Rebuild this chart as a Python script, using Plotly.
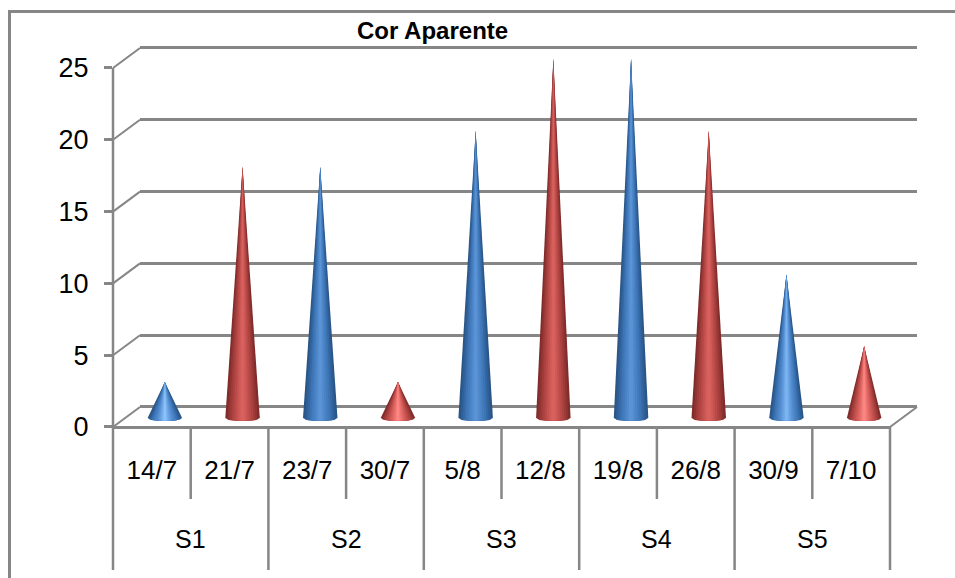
import math
import plotly.graph_objects as go

W, H = 955, 578

title_text = "Cor Aparente"
dates = ["14/7", "21/7", "23/7", "30/7", "5/8", "12/8", "19/8", "26/8", "30/9", "7/10"]
values = [2.5, 17.5, 17.5, 2.5, 20, 25, 25, 20, 10, 5]
series_color = ["blue", "red", "blue", "red", "blue", "red", "blue", "red", "blue", "red"]
groups = ["S1", "S2", "S3", "S4", "S5"]
y_ticks = [0, 5, 10, 15, 20, 25]

GRAY = "#868686"
# gradient, edge -> centre
RAMP = {
    "blue": ["#2a5687", "#2f5f96", "#3668a6", "#3c74b4", "#437cbd", "#4a84c6", "#528bcd", "#5b94d6",
             "#659edf", "#70a9e8", "#7bb4f0", "#8cc2f8"],
    "red": ["#7f2c2a", "#8f3432", "#9f3c3a", "#ad4341", "#b94a48", "#c4524f", "#cf5a57", "#d8615e",
            "#e16966", "#ea726f", "#f47c79", "#ff8583"],
}
GLOW = {"blue": "#c6d8ee", "red": "#f0cfce"}

# plot geometry in pixels
LEFT, RIGHT, BOTTOM, TOP = 113, 890, 427, 68
PAD = 0.2  # small range pad so the end gridlines are drawn


def dom(dx, dy):
    u = (BOTTOM - TOP) / (y_ticks[-1] - y_ticks[0])
    return (
        [(LEFT + dx) / W, (RIGHT + dx) / W],
        [(H - (BOTTOM + dy + PAD * u)) / H, (H - (TOP + dy - PAD * u)) / H],
    )


def px(x, y):
    return x / W, (H - y) / H


fig = go.Figure()

xr = [-0.5, 9.5]
yr = [y_ticks[0] - PAD, y_ticks[-1] + PAD]
fx1, fy1 = dom(0, 0)
fx2, fy2 = dom(27, -20)   # back wall
fx3, fy3 = dom(13, -9)    # cone plane

# front axis subplot
fig.add_trace(go.Scatter(x=[0], y=[0], xaxis="x", yaxis="y", mode="none", showlegend=False, hoverinfo="skip"))
# back wall gridlines subplot
fig.add_trace(go.Scatter(x=[0], y=[0], xaxis="x2", yaxis="y2", mode="none", showlegend=False, hoverinfo="skip"))


def cone(i, v, frac, depth, col):
    ts = [frac * (-1 + 2 * s / 12) for s in range(13)]
    xs = [i + t * half_w for t in ts] + [i]
    ys = [-depth * math.sqrt(max(0, 1 - t * t)) for t in ts] + [v]
    xs.append(xs[0])
    ys.append(ys[0])
    fig.add_trace(go.Scatter(x=xs, y=ys, xaxis="x3", yaxis="y3", mode="lines", fill="toself",
                             fillcolor=col, line=dict(color=col, width=0),
                             showlegend=False, hoverinfo="skip"))


# cones as nested gradient layers, widest and darkest first
half_w = 0.222
ell = 0.2
for i, (v, c) in enumerate(zip(values, series_color)):
    ramp = RAMP[c]
    layers = 8 if v >= 15 else 11 if v >= 10 else 12
    cone(i, v * 0.1, 0.8, ell + 0.14, GLOW[c])
    for k in range(layers):
        cone(i, v, 1 - k / layers, ell, ramp[k])

shapes = []


def line(x0, y0, x1, y1, w=2.5):
    a, b = px(x0, y0)
    c, d = px(x1, y1)
    shapes.append(dict(type="line", xref="paper", yref="paper", x0=a, y0=b, x1=c, y1=d,
                       line=dict(color=GRAY, width=w), layer="below"))


# slanted wall/floor connectors
step = (BOTTOM - TOP) / (len(y_ticks) - 1)
for k in range(len(y_ticks)):
    y = BOTTOM - k * step
    line(LEFT, y, LEFT + 27, y - 20, 2)
line(RIGHT, BOTTOM, RIGHT + 27, BOTTOM - 20, 2)
# vertical axis continuing below the plot
line(LEFT, TOP, LEFT, 570, 2.5)
line(RIGHT, BOTTOM, RIGHT, 570, 2.5)

# outer frame
a, b = px(9.5, 11.5)
c, d = px(1000, 1000)
shapes.append(dict(type="rect", xref="paper", yref="paper", x0=a, y0=b, x1=c, y1=d,
                   line=dict(color=GRAY, width=3), layer="below"))

# dividers between dates and groups
y_short = px(0, 499)[1]
y_long = px(0, 570)[1]
y_axis = px(0, BOTTOM)[1]
for i in range(1, len(dates)):
    shapes.append(dict(type="line", xref="x", yref="paper", x0=i - 0.5, x1=i - 0.5, y0=y_axis,
                       y1=y_short if i % 2 else y_long, line=dict(color=GRAY, width=2.5)))

annotations = [
    dict(text=f"<b>{title_text}</b>", xref="paper", yref="paper", x=px(432, 0)[0], y=px(0, 30)[1],
         xanchor="center", yanchor="middle", showarrow=False,
         font=dict(family="Liberation Sans", size=24, color="black"))
]
for j, g in enumerate(groups):
    annotations.append(dict(text=g, xref="x", yref="paper", x=2 * j + 0.5, y=px(0, 539)[1],
                            xanchor="center", yanchor="middle", showarrow=False,
                            font=dict(family="Liberation Sans", size=25, color="black")))

common = dict(showline=False, zeroline=False)
fig.update_layout(
    width=W, height=H, margin=dict(l=0, r=0, t=0, b=0, autoexpand=False), autosize=False,
    paper_bgcolor="white", plot_bgcolor="rgba(0,0,0,0)", showlegend=False,
    font=dict(family="Liberation Sans", color="black"),
    xaxis=dict(domain=fx1, range=xr, anchor="free", position=fy1[0] + PAD * (BOTTOM - TOP) / 25 / H,
               tickmode="array", tickvals=list(range(len(dates))),
               ticktext=dates, ticks="", showgrid=False, ticklabelstandoff=19,
               tickfont=dict(size=26), showline=True, linecolor=GRAY, linewidth=2.5, zeroline=False),
    yaxis=dict(domain=fy1, range=yr, anchor="x", tickmode="array", tickvals=y_ticks, ticks="outside",
               ticklen=8, tickwidth=2.5, tickcolor=GRAY, showgrid=False, ticklabelstandoff=10,
               tickfont=dict(size=27), **common),
    xaxis2=dict(domain=fx2, range=xr, anchor="y2", showticklabels=False, ticks="", showgrid=False, **common),
    yaxis2=dict(domain=fy2, range=yr, anchor="x2", tickmode="array", tickvals=y_ticks, showticklabels=False,
                ticks="", showgrid=True, gridcolor=GRAY, gridwidth=2.5, **common),
    xaxis3=dict(domain=fx3, range=xr, anchor="y3", visible=False),
    yaxis3=dict(domain=fy3, range=yr, anchor="x3", visible=False),
    shapes=shapes, annotations=annotations,
)

fig.write_html("out.html", config={"displayModeBar": False},
               post_script="document.body.style.margin='0';")
